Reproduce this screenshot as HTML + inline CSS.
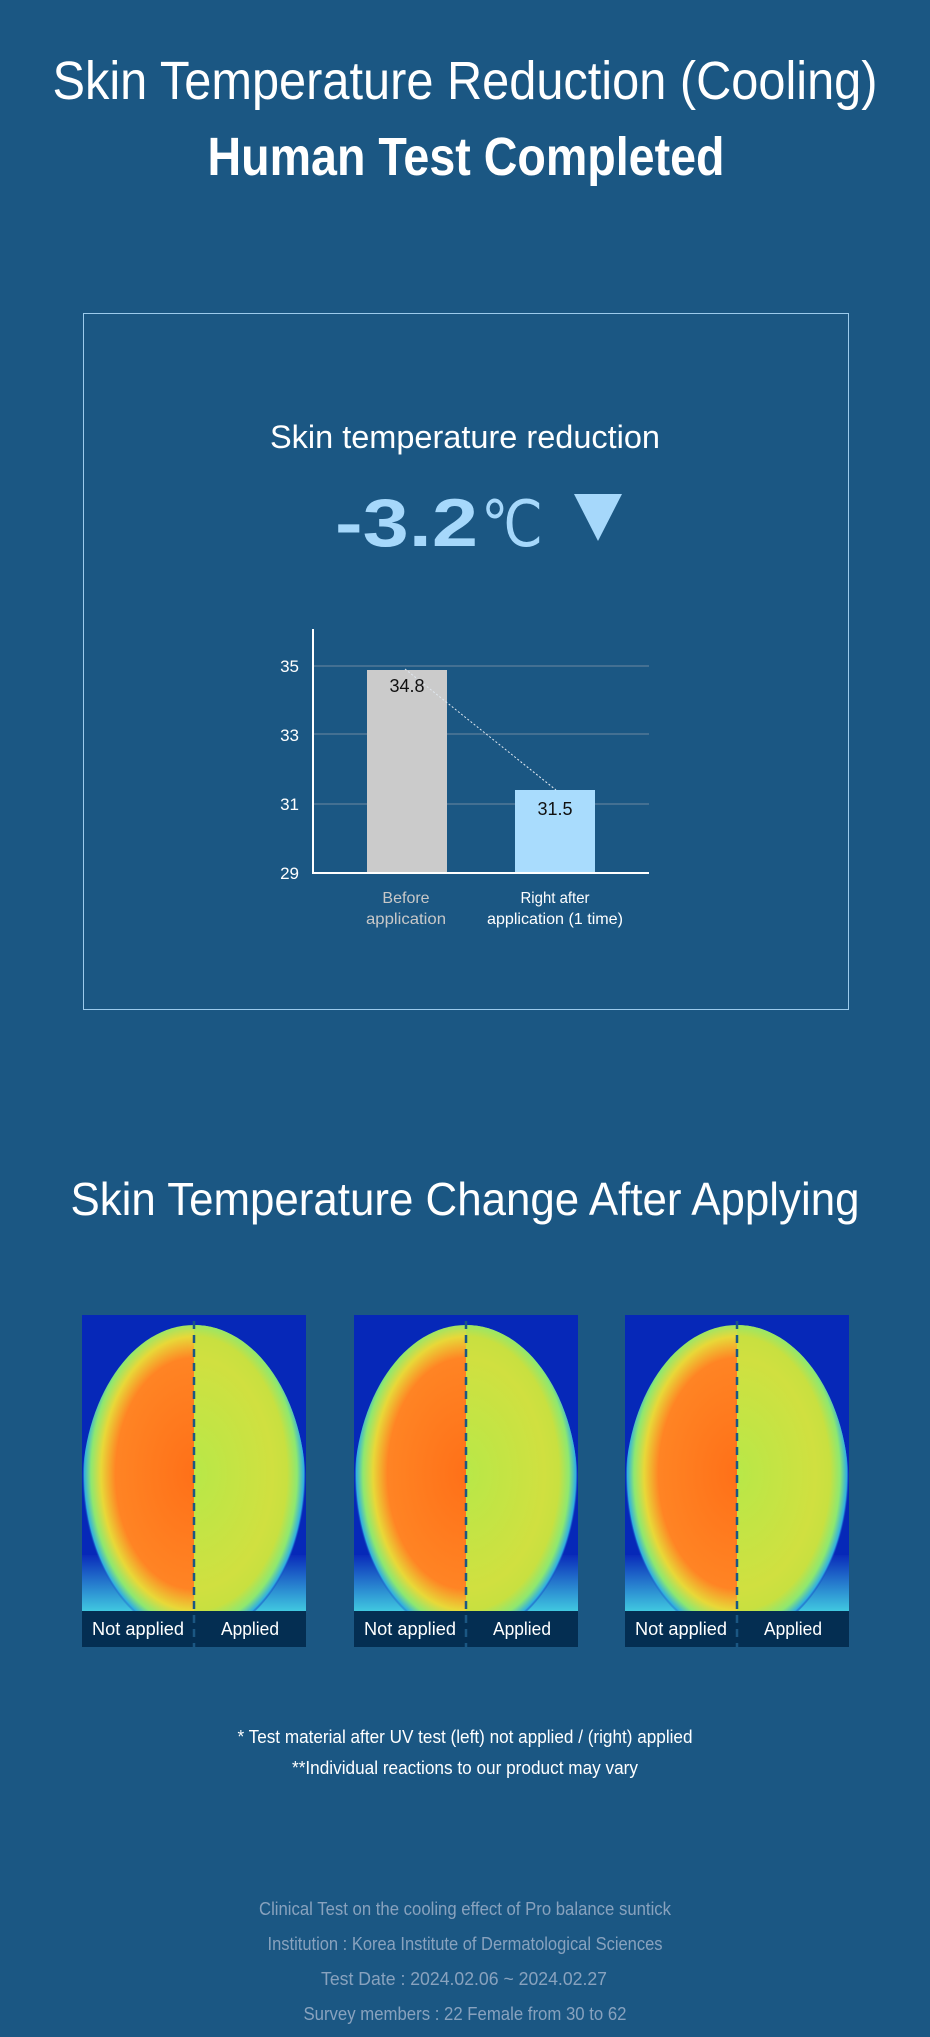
<!DOCTYPE html>
<html><head><meta charset="utf-8"><style>
html,body{margin:0;padding:0;background:#1b5783;}
svg{display:block}
text{font-family:"Liberation Sans",sans-serif;}
</style></head><body>
<svg width="930" height="2037" viewBox="0 0 930 2037" xmlns="http://www.w3.org/2000/svg">
<defs>
<radialGradient id="hot" cx="0.5" cy="0.45" r="0.5">
<stop offset="0" stop-color="#ff7018"/>
<stop offset="0.7" stop-color="#ff8424"/>
<stop offset="0.83" stop-color="#e8d838"/>
<stop offset="0.92" stop-color="#8ee870"/>
<stop offset="0.98" stop-color="#30b0e0"/>
<stop offset="1" stop-color="#0a2cba" stop-opacity="0"/>
</radialGradient>
<radialGradient id="cool" cx="0.5" cy="0.45" r="0.5">
<stop offset="0" stop-color="#b8e848"/>
<stop offset="0.7" stop-color="#d0e040"/>
<stop offset="0.83" stop-color="#c8e040"/>
<stop offset="0.92" stop-color="#8ee870"/>
<stop offset="0.98" stop-color="#30b0e0"/>
<stop offset="1" stop-color="#0a2cba" stop-opacity="0"/>
</radialGradient>
<linearGradient id="shoulder" x1="0" y1="0" x2="0" y2="1">
<stop offset="0" stop-color="#0a2cba"/>
<stop offset="1" stop-color="#40c8e0"/>
</linearGradient>
<clipPath id="rh"><rect x="112" y="0" width="112" height="296"/></clipPath>
<clipPath id="ph"><rect x="0" y="0" width="224" height="296"/></clipPath>
<g id="thermo">
<rect x="0" y="0" width="224" height="296" fill="#0628b8"/>
<rect x="0" y="240" width="224" height="56" fill="url(#shoulder)"/>
<g clip-path="url(#ph)">
<ellipse cx="112" cy="175" rx="112" ry="165" fill="url(#hot)"/>
<ellipse cx="112" cy="175" rx="112" ry="165" fill="url(#cool)" clip-path="url(#rh)"/>
</g>
<rect x="0" y="296" width="224" height="36" fill="#042e52"/>
<line x1="112" y1="6" x2="112" y2="332" stroke="#1b5783" stroke-width="2.5" stroke-dasharray="8,6"/>
<text x="56" y="320" font-size="18" fill="#fff" text-anchor="middle" textLength="92" lengthAdjust="spacingAndGlyphs">Not applied</text>
<text x="168" y="320" font-size="18" fill="#fff" text-anchor="middle" textLength="58" lengthAdjust="spacingAndGlyphs">Applied</text>
</g>
</defs>

<text x="465" y="99" font-size="54" fill="#fff" text-anchor="middle" textLength="825" lengthAdjust="spacingAndGlyphs">Skin Temperature Reduction (Cooling)</text>
<text x="466" y="175" font-size="54" font-weight="bold" fill="#fff" text-anchor="middle" textLength="517" lengthAdjust="spacingAndGlyphs">Human Test Completed</text>

<rect x="83.5" y="313.5" width="765" height="696" fill="none" stroke="#9ccbec" stroke-width="1"/>
<text x="465" y="448" font-size="32" fill="#fff" text-anchor="middle" textLength="390" lengthAdjust="spacingAndGlyphs">Skin temperature reduction</text>
<text x="335" y="546" font-size="68" font-weight="bold" fill="#a6d8fb" textLength="143" lengthAdjust="spacingAndGlyphs">-3.2</text>
<text x="481" y="546" font-size="64" fill="#a6d8fb" textLength="62" lengthAdjust="spacingAndGlyphs">℃</text>
<polygon points="574,494 622,494 598,541" fill="#a6d8fb"/>

<g stroke="#5c7f9c" stroke-width="1.2">
<line x1="313" y1="666" x2="649" y2="666"/>
<line x1="313" y1="734" x2="649" y2="734"/>
<line x1="313" y1="804" x2="649" y2="804"/>
</g>
<rect x="367" y="670" width="80" height="203" fill="#cbcbcb"/>
<rect x="515" y="790" width="80" height="83" fill="#a9dcfd"/>
<line x1="405" y1="669" x2="556" y2="790" stroke="#e0e8f0" stroke-width="1" stroke-dasharray="2,2"/>
<line x1="313" y1="629" x2="313" y2="874" stroke="#fff" stroke-width="2"/>
<line x1="312" y1="873" x2="649" y2="873" stroke="#fff" stroke-width="2"/>
<g font-size="17" fill="#fff" text-anchor="end">
<text x="299" y="672">35</text><text x="299" y="741">33</text><text x="299" y="810">31</text><text x="299" y="879">29</text>
</g>
<text x="407" y="692" font-size="18" fill="#111" text-anchor="middle">34.8</text>
<text x="555" y="815" font-size="18" fill="#111" text-anchor="middle">31.5</text>
<g font-size="16" text-anchor="middle">
<text x="406" y="903" fill="#c8c8c8">Before</text>
<text x="406" y="924" fill="#c8c8c8" textLength="80" lengthAdjust="spacingAndGlyphs">application</text>
<text x="555" y="903" fill="#fff" textLength="69" lengthAdjust="spacingAndGlyphs">Right after</text>
<text x="555" y="924" fill="#fff" textLength="136" lengthAdjust="spacingAndGlyphs">application (1 time)</text>
</g>

<text x="465" y="1215" font-size="46" fill="#fff" text-anchor="middle" textLength="789" lengthAdjust="spacingAndGlyphs">Skin Temperature Change After Applying</text>

<use href="#thermo" x="82" y="1315"/>
<use href="#thermo" x="354" y="1315"/>
<use href="#thermo" x="625" y="1315"/>

<text x="465" y="1743" font-size="18" fill="#fff" text-anchor="middle" textLength="455" lengthAdjust="spacingAndGlyphs">* Test material after UV test (left) not applied / (right) applied</text>
<text x="465" y="1774" font-size="18" fill="#fff" text-anchor="middle" textLength="346" lengthAdjust="spacingAndGlyphs">**Individual reactions to our product may vary</text>

<g font-size="18" fill="#88a2be" text-anchor="middle">
<text x="465" y="1915" textLength="412" lengthAdjust="spacingAndGlyphs">Clinical Test on the cooling effect of Pro balance suntick</text>
<text x="465" y="1950" textLength="395" lengthAdjust="spacingAndGlyphs">Institution : Korea Institute of Dermatological Sciences</text>
<text x="464" y="1985" textLength="286" lengthAdjust="spacingAndGlyphs">Test Date : 2024.02.06 ~ 2024.02.27</text>
<text x="465" y="2020" textLength="323" lengthAdjust="spacingAndGlyphs">Survey members : 22 Female from 30 to 62</text>
</g>
</svg>
</body></html>
